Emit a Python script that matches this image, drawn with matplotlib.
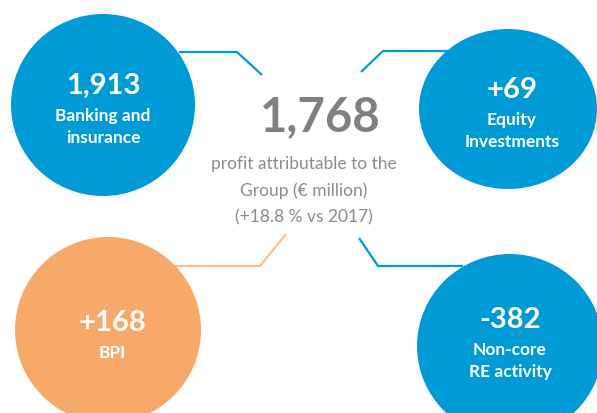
import matplotlib
matplotlib.use("Agg")
import matplotlib.pyplot as plt
from matplotlib.patches import Ellipse

C_BLUE = "#009BD6"
C_ORANGE = "#F7A96A"
C_ORANGE_LINE = "#FBBF8C"
C_GRAY = "#808080"
C_GRAY_LIGHT = "#8C8C8C"

plt.rcParams["font.family"] = ["Lato", "DejaVu Sans"]

# data
segment_values = ["1,913", "+69", "+168", "-382"]
segment_labels = ["Banking and\ninsurance", "Equity\nInvestments", "BPI", "Non-core\nRE activity"]
segment_colors = [C_BLUE, C_BLUE, C_ORANGE, C_BLUE]
total_value = "1,768"
total_caption = ["profit attributable to the", "Group (\u20ac million)", "(+18.8 % vs 2017)"]

# layout (pixel coords, y down)
centers = [(103, 106), (508, 110), (108, 331), (510, 347)]
sizes = [(184, 182), (178, 160), (186, 186), (186, 184)]
text_pos = [(103, 86), (512, 90), (112, 323), (510, 320)]
connectors = [
    [(179, 53), (237, 53), (262, 76)],
    [(448, 52), (383, 52), (361, 73)],
    [(173, 267), (260, 267), (286, 235)],
    [(463, 267), (378, 267), (359, 239)],
]
line_colors = [C_BLUE, C_BLUE, C_ORANGE_LINE, C_BLUE]

fig = plt.figure(figsize=(5.97, 4.14), dpi=100)
ax = fig.add_axes([0, 0, 1, 1])
ax.set_xlim(0, 597)
ax.set_ylim(414, 0)
ax.axis("off")

for pts, col in zip(connectors, line_colors):
    xs = [p[0] for p in pts]
    ys = [p[1] for p in pts]
    ax.plot(xs, ys, color=col, lw=1.6, solid_capstyle="butt", zorder=1)

for (cx, cy), (w, h), (tx, ty), col, val, lab in zip(centers, sizes, text_pos, segment_colors,
                                                     segment_values, segment_labels):
    ax.add_patch(Ellipse((cx, cy), w, h, facecolor=col, edgecolor="none", zorder=2))
    ax.text(tx, ty, val, ha="center", va="center", color="white",
            fontsize=21, fontweight="bold", zorder=3)
    for i, line in enumerate(lab.split("\n")):
        ax.text(tx, ty + 30 + i * 22.5, line, ha="center", va="center",
                color="white", fontsize=12.5, fontweight="bold", zorder=3)

ax.text(320, 117, total_value, ha="center", va="center", color=C_GRAY,
        fontsize=34, fontweight="bold")
for i, line in enumerate(total_caption):
    ax.text(304, 164 + i * 26.5, line, ha="center", va="center", color=C_GRAY_LIGHT,
            fontsize=12.5)

fig.savefig("out.png", dpi=100)
